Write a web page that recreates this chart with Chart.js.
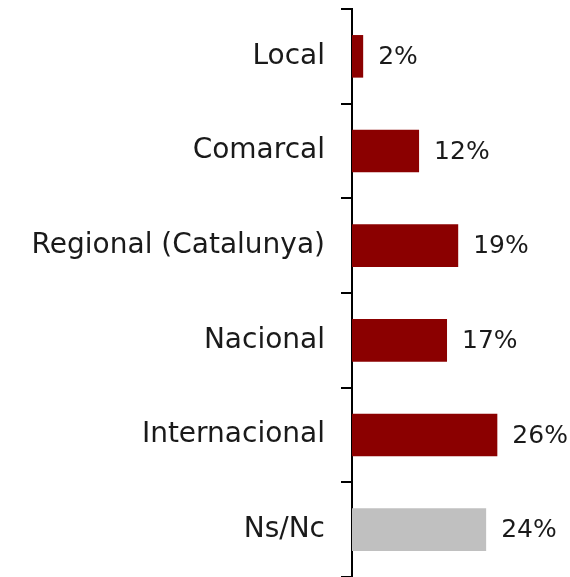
<!DOCTYPE html>
<html>
<head>
<meta charset="utf-8">
<script src="https://cdn.jsdelivr.net/npm/chart.js@4"></script>
<style>
  html, body { margin: 0; padding: 0; background: #fff; }
  #wrap { width: 570px; height: 577px; }
</style>
</head>
<body>
<div id="wrap"><canvas id="Chart"></canvas></div>
<script>
const categories = ['Local', 'Comarcal', 'Regional (Catalunya)', 'Nacional', 'Internacional', 'Ns/Nc'];
const values = [2, 12, 19, 17, 26, 24];
const valueLabels = ['2%', '12%', '19%', '17%', '26%', '24%'];
const barColors = ['#8b0000', '#8b0000', '#8b0000', '#8b0000', '#8b0000', '#c0c0c0'];

const FONT = "'Century Gothic', 'DejaVu Sans', sans-serif";

// value labels to the right of each bar
const barLabels = {
	id: 'barLabels',
	afterDatasetsDraw: (chart) => {
		const ctx = chart.ctx;
		const meta = chart.getDatasetMeta(0);
		ctx.save();
		ctx.font = '25px ' + FONT;
		ctx.fillStyle = '#1a1a1a';
		ctx.textAlign = 'left';
		ctx.textBaseline = 'middle';
		meta.data.forEach((bar, i) => {
			ctx.fillText(valueLabels[i], bar.x + 15, bar.y + 1);
		});
		ctx.restore();
	}
};

const canvas = document.getElementById('Chart');
const ctx = canvas.getContext('2d');

const myChart = new Chart(ctx, {
	type: 'bar',
	data: {
		labels: categories,
		datasets: [{
			data: values,
			backgroundColor: barColors,
			borderWidth: 0,
			categoryPercentage: 1,
			barPercentage: 0.45
		}]
	},
	options: {
		indexAxis: 'y',
		responsive: true,
		maintainAspectRatio: false,
		animation: false,
		layout: { padding: { top: 9, right: 0, bottom: 0, left: 0 } },
		plugins: {
			legend: { display: false },
			tooltip: { enabled: false }
		},
		scales: {
			x: {
				display: false,
				min: 0,
				max: 39
			},
			y: {
				afterFit: (scale) => {
					scale.width = 352;
					scale.paddingTop = 0;
					scale.paddingBottom = 0;
				},
				border: { display: true, color: '#000', width: 2 },
				grid: {
					offset: true,
					drawOnChartArea: false,
					drawTicks: true,
					tickLength: 11,
					color: '#000',
					lineWidth: 2
				},
				ticks: {
					padding: 16,
					color: '#1a1a1a',
					font: { family: FONT, size: 28 }
				}
			}
		}
	},
	plugins: [barLabels]
});
</script>
</body>
</html>
